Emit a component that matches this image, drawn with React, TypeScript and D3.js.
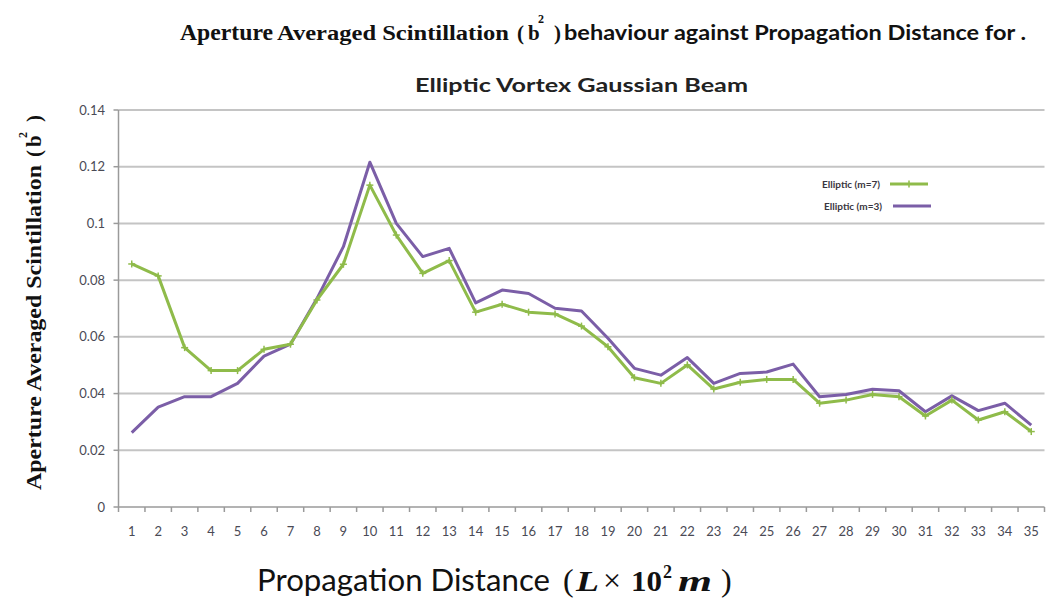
import React from "react";
import * as d3 from "d3";

// Propagation distance steps (L × 10² m)
const distances: number[] = d3.range(1, 36);

// Aperture averaged scintillation, Elliptic vortex beam m = 7
const ellipticM7: number[] = [
  0.0857, 0.0815, 0.0562, 0.0481, 0.0481, 0.0556, 0.0574, 0.0730, 0.0856, 0.1135,
  0.0959, 0.0824, 0.0869, 0.0687, 0.0715, 0.0687, 0.0681, 0.0638, 0.0565, 0.0456,
  0.0436, 0.0501, 0.0416, 0.0440, 0.0450, 0.0450, 0.0366, 0.0377, 0.0397, 0.0389,
  0.0321, 0.0377, 0.0307, 0.0336, 0.0266,
];

// Aperture averaged scintillation, Elliptic vortex beam m = 3
const ellipticM3: number[] = [
  0.0262, 0.0352, 0.0389, 0.0389, 0.0436, 0.0532, 0.0574, 0.0735, 0.0918, 0.1216,
  0.1000, 0.0883, 0.0912, 0.0720, 0.0765, 0.0753, 0.0701, 0.0691, 0.0595, 0.0489,
  0.0465, 0.0527, 0.0436, 0.0471, 0.0476, 0.0504, 0.0389, 0.0397, 0.0415, 0.0410,
  0.0336, 0.0392, 0.0340, 0.0366, 0.0289,
];

const yTicks: number[] = [0, 0.02, 0.04, 0.06, 0.08, 0.1, 0.12, 0.14];

const seriesNames = ["Elliptic (m=7)", "Elliptic (m=3)"];
const GREEN = "#8fbb4a";
const PURPLE = "#7b5ea7";

const W = 1049;
const H = 600;
const plot = { left: 118.5, right: 1044.5, top: 110, bottom: 507 };

const sans = "Lato, 'Open Sans', sans-serif";
const serif = "'Liberation Serif', 'DejaVu Serif', serif";

export default function App() {
  const x = d3
    .scaleBand<number>()
    .domain(distances)
    .range([plot.left, plot.right])
    .padding(0);
  const y = d3.scaleLinear().domain([0, 0.14]).range([plot.bottom, plot.top]);
  const cx = (d: number) => (x(d) as number) + x.bandwidth() / 2;

  const line = d3
    .line<number>()
    .x((_, i) => cx(distances[i]))
    .y((v) => y(v));

  const tickEdges = distances.map((d) => x(d) as number).concat([plot.right]);

  return (
    <svg
      width={W}
      height={H}
      viewBox={`0 0 ${W} ${H}`}
      style={{ position: "absolute", left: 0, top: 0, background: "#fff" }}
    >
      {/* Title, first line */}
      <text x={180} y={40} fontFamily={serif} fontWeight="bold" fill="#111">
        <tspan fontSize={23} textLength={93} lengthAdjust="spacingAndGlyphs">Aperture</tspan>
        <tspan x={277} fontSize={20} textLength={232} lengthAdjust="spacingAndGlyphs">
          Averaged Scintillation
        </tspan>
        <tspan x={517} fontSize={21}>(</tspan>
        <tspan x={528} fontSize={21}>b</tspan>
        <tspan x={538} dy={-17} fontSize={12}>2</tspan>
        <tspan x={554} dy={17} fontSize={21}>)</tspan>
      </text>
      <text
        x={564}
        y={40}
        fontFamily={sans}
        fontWeight="bold"
        fontSize={21}
        fill="#111"
        textLength={462}
        lengthAdjust="spacingAndGlyphs"
      >
        behaviour against Propagation Distance for .
      </text>
      {/* Title, second line */}
      <text
        x={415}
        y={92}
        fontFamily={sans}
        fontWeight="bold"
        fontSize={19}
        fill="#222"
        textLength={333}
        lengthAdjust="spacingAndGlyphs"
      >
        Elliptic Vortex Gaussian Beam
      </text>

      {/* Gridlines */}
      {yTicks.map((t) => (
        <line
          key={`g${t}`}
          x1={plot.left}
          x2={plot.right}
          y1={y(t)}
          y2={y(t)}
          stroke={t === 0 ? "#9a9a9a" : "#c4c4c4"}
          strokeWidth={t === 0 ? 1.5 : 2}
        />
      ))}

      {/* Y axis */}
      <line x1={plot.left} x2={plot.left} y1={plot.top} y2={plot.bottom} stroke="#9a9a9a" strokeWidth={1.5} />
      {yTicks.map((t) => (
        <g key={`yt${t}`}>
          <line x1={plot.left - 5} x2={plot.left} y1={y(t)} y2={y(t)} stroke="#9a9a9a" strokeWidth={1.5} />
          <text
            x={105}
            y={y(t)}
            dy="0.35em"
            textAnchor="end"
            fontFamily={sans}
            fontSize={13}
            fill="#4a4a55"
          >
            {String(t)}
          </text>
        </g>
      ))}

      {/* X axis ticks and labels */}
      {tickEdges.map((e, i) => (
        <line key={`xt${i}`} x1={e} x2={e} y1={plot.bottom} y2={plot.bottom + 5} stroke="#9a9a9a" strokeWidth={1.5} />
      ))}
      {distances.map((d) => (
        <text
          key={`xl${d}`}
          x={cx(d)}
          y={536}
          textAnchor="middle"
          fontFamily={sans}
          fontSize={13}
          fill="#4a4a55"
        >
          {d}
        </text>
      ))}

      {/* Series */}
      <path d={line(ellipticM3) ?? ""} fill="none" stroke={PURPLE} strokeWidth={3} strokeLinejoin="round" />
      <path d={line(ellipticM7) ?? ""} fill="none" stroke={GREEN} strokeWidth={3} strokeLinejoin="round" />
      {ellipticM7.map((v, i) => (
        <g key={`m${i}`} stroke={GREEN} strokeWidth={1.5}>
          <line x1={cx(distances[i]) - 3.5} x2={cx(distances[i]) + 3.5} y1={y(v)} y2={y(v)} />
          <line x1={cx(distances[i])} x2={cx(distances[i])} y1={y(v) - 3.5} y2={y(v) + 3.5} />
        </g>
      ))}

      {/* Legend */}
      <g fontFamily={sans} fontSize={10} fontWeight="bold" fill="#3a3640">
        <text x={880} y={184} dy="0.35em" textAnchor="end">{seriesNames[0]}</text>
        <line x1={890} x2={928} y1={184} y2={184} stroke={GREEN} strokeWidth={3} />
        <line x1={909} x2={909} y1={180.5} y2={187.5} stroke={GREEN} strokeWidth={1.5} />
        <text x={882} y={206} dy="0.35em" textAnchor="end">{seriesNames[1]}</text>
        <line x1={893} x2={931} y1={206} y2={206} stroke={PURPLE} strokeWidth={3} />
      </g>

      {/* Y axis title */}
      <text
        transform={`translate(41,490) rotate(-90)`}
        fontFamily={serif}
        fontWeight="bold"
        fontSize={21}
        fill="#111"
      >
        <tspan textLength={325} lengthAdjust="spacingAndGlyphs">Aperture Averaged Scintillation</tspan>
        <tspan x={333}>(</tspan>
        <tspan x={343}>b</tspan>
        <tspan x={352} dy={-14} fontSize={12}>2</tspan>
        <tspan x={368} dy={14}>)</tspan>
      </text>

      {/* X axis title */}
      <text x={257} y={591} fontFamily={sans} fontSize={30} fill="#111">
        <tspan textLength={293} lengthAdjust="spacingAndGlyphs">Propagation Distance</tspan>
      </text>
      <text y={591} fontFamily={serif} fontSize={30} fill="#111">
        <tspan x={563} fontSize={32}>(</tspan>
        <tspan x={576} fontWeight="bold" fontStyle="italic" textLength={23} lengthAdjust="spacingAndGlyphs">L</tspan>
        <tspan x={603} fontSize={32}>×</tspan>
        <tspan x={631} fontWeight="bold" textLength={31} lengthAdjust="spacingAndGlyphs">10</tspan>
        <tspan x={663} dy={-13} fontSize={18} fontWeight="bold">2</tspan>
        <tspan x={678} dy={13} fontWeight="bold" fontStyle="italic" textLength={34} lengthAdjust="spacingAndGlyphs">m</tspan>
        <tspan x={721} fontSize={32}>)</tspan>
      </text>
    </svg>
  );
}
